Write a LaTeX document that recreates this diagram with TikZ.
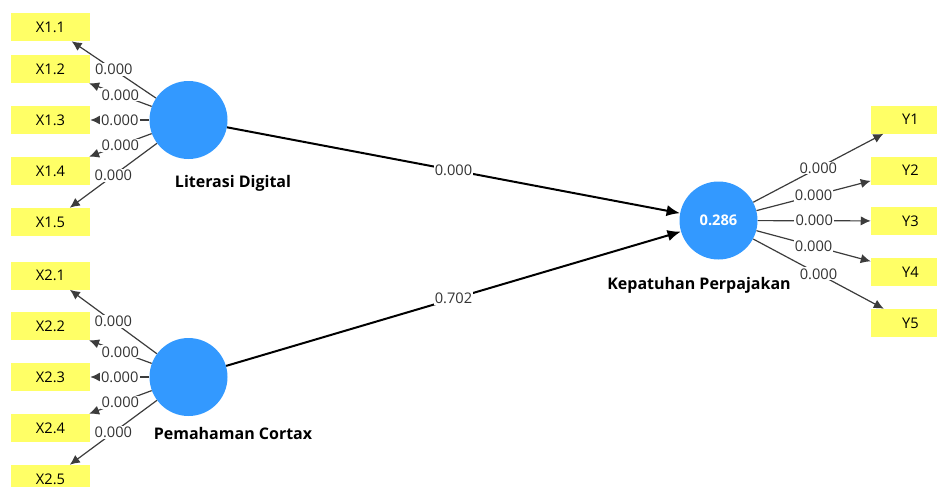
\documentclass[tikz,border=0pt]{standalone}
\usepackage{fontspec}
\setmainfont{Open Sans}
\definecolor{lvBlue}{RGB}{51,153,255}
\definecolor{indYellow}{RGB}{255,255,102}
\definecolor{lineGray}{RGB}{60,60,60}
\usetikzlibrary{arrows.meta,positioning}

\begin{document}
\begin{tikzpicture}[x=0.75pt, y=-0.75pt,
    font=\fontsize{11}{13}\selectfont,
    indicator/.style={fill=indYellow, minimum width=59.25pt, minimum height=21pt, inner sep=0pt},
    latent/.style={circle, fill=lvBlue, minimum size=58.5pt, inner sep=0pt},
    lvname/.style={font=\fontsize{12}{14}\selectfont\bfseries},
    loading/.style={draw=lineGray, line width=0.9pt, -{Latex[length=7.5pt,width=7pt]}},
    path/.style={draw=black, line width=1.5pt, -{Latex[length=10pt,width=8.5pt]}},
    coef/.style={fill=white, inner sep=0.8pt, text=black!80}]
    \useasboundingbox (0,0) rectangle (937,486);

    % indicators X1
    \node[indicator] (x11) at (50.5,27) {X1.1};
    \node[indicator] (x12) at (50.5,69) {X1.2};
    \node[indicator] (x13) at (50.5,120) {X1.3};
    \node[indicator] (x14) at (50.5,171) {X1.4};
    \node[indicator] (x15) at (50.5,222) {X1.5};

    % indicators X2
    \node[indicator] (x21) at (50.5,275.5) {X2.1};
    \node[indicator] (x22) at (50.5,326) {X2.2};
    \node[indicator] (x23) at (50.5,377) {X2.3};
    \node[indicator] (x24) at (50.5,428) {X2.4};
    \node[indicator] (x25) at (50.5,479) {X2.5};

    % indicators Y
    \node[indicator] (y1) at (910.5,119.5) {Y1};
    \node[indicator] (y2) at (910.5,170.5) {Y2};
    \node[indicator] (y3) at (910.5,221) {Y3};
    \node[indicator] (y4) at (910.5,272) {Y4};
    \node[indicator] (y5) at (910.5,323) {Y5};

    % latent variables
    \node[latent, font=\fontsize{11}{13}\selectfont\bfseries, text=white] (kep) at (718.5,220.5) {0.286};
    \node[latent] (lit) at (188.5,120) {};
    \node[latent] (pem) at (188.5,377) {};
    \node[lvname] (litlbl) at (233,183) {Literasi Digital};
    \node[lvname] (pemlbl) at (233,433) {Pemahaman Cortax};
    \node[lvname] (keplbl) at (699,285) {Kepatuhan Perpajakan};

    % outer loadings
    \draw[loading] (lit) -- node[coef] {0.000} (x11);
    \draw[loading] (lit) -- node[coef] {0.000} (x12);
    \draw[loading] (lit) -- node[coef] {0.000} (x13);
    \draw[loading] (lit) -- node[coef] {0.000} (x14);
    \draw[loading] (lit) -- node[coef] {0.000} (x15);
    \draw[loading] (pem) -- node[coef] {0.000} (x21);
    \draw[loading] (pem) -- node[coef] {0.000} (x22);
    \draw[loading] (pem) -- node[coef] {0.000} (x23);
    \draw[loading] (pem) -- node[coef] {0.000} (x24);
    \draw[loading] (pem) -- node[coef] {0.000} (x25);
    \draw[loading] (kep) -- node[coef] {0.000} (y1);
    \draw[loading] (kep) -- node[coef] {0.000} (y2);
    \draw[loading] (kep) -- node[coef] {0.000} (y3);
    \draw[loading] (kep) -- node[coef] {0.000} (y4);
    \draw[loading] (kep) -- node[coef] {0.000} (y5);

    % inner model
    \draw[path] (lit) -- node[coef] {0.000} (kep);
    \draw[path] (pem) -- node[coef] {0.702} (kep);
\end{tikzpicture}
\end{document}
